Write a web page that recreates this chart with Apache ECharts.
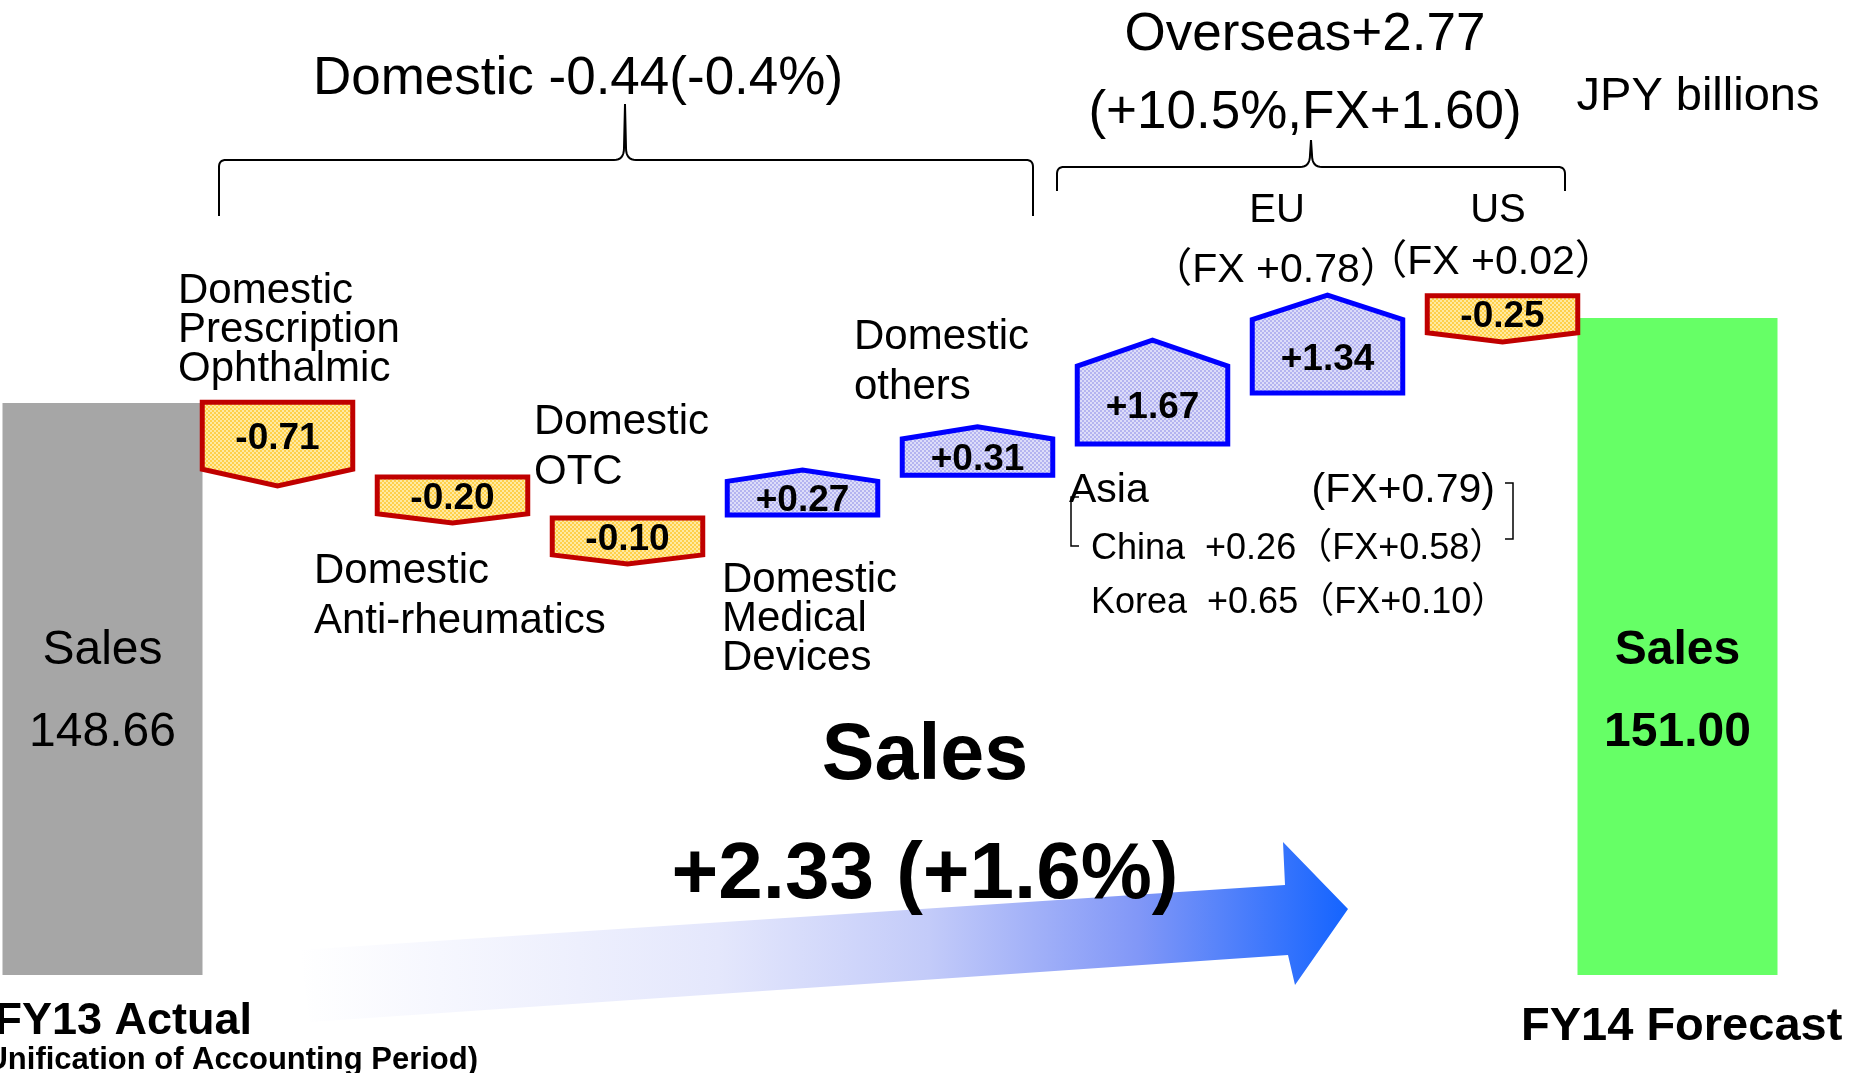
<!DOCTYPE html>
<html>
<head>
<meta charset="utf-8">
<title>Sales FY13 Actual to FY14 Forecast</title>
<script src="https://cdn.jsdelivr.net/npm/echarts@6/dist/echarts.min.js"></script>
<style>
  html, body { margin: 0; padding: 0; background: #fff; }
  #chart { width: 1849px; height: 1073px; }
</style>
</head>
<body>
<div id="chart"></div>
<script>
// JPY billions
const categories = ['FY13 Actual', 'Domestic Prescription Ophthalmic', 'Domestic Anti-rheumatics', 'Domestic OTC',
  'Domestic Medical Devices', 'Domestic others', 'Asia', 'EU', 'US', 'FY14 Forecast'];
const totalNames = ['FY13 Actual', 'FY14 Forecast'];
const totals = [148.66, 151.00];
const changes = [-0.71, -0.20, -0.10, 0.27, 0.31, 1.67, 1.34, -0.25];
// the slide does not draw the steps to scale: level where each box starts / ends
const stepFrom = [148.68, 146.62, 145.49, 145.57, 146.67, 147.53, 148.93, 151.61];
const stepTo = [146.37, 145.35, 144.22, 146.81, 148.00, 150.39, 151.63, 150.34];

const AXIS_MIN = 132.9;
const AXIS_MAX = 159.76;
const FONT = '"Liberation Sans", Arial, "Noto Sans CJK JP", sans-serif';

function makePattern(base, light) {
  const c = document.createElement('canvas');
  c.width = 4;
  c.height = 4;
  const g = c.getContext('2d');
  g.fillStyle = base;
  g.fillRect(0, 0, 4, 4);
  g.fillStyle = light;
  g.fillRect(0, 0, 2, 2);
  g.fillRect(2, 2, 2, 2);
  return { image: c, repeat: 'repeat' };
}
const yellowFill = makePattern('#FFD04A', '#FFEAA2');
const blueFill = makePattern('#B4B4F0', '#DDDDF9');

const renderTotal = (params, api) => {
  const i = api.value(0);
  const v = api.value(1);
  const base = api.coord([i, AXIS_MIN]);
  const top = api.coord([i, v]);
  const w = 200;
  const last = params.dataIndex === totals.length - 1;
  return {
    type: 'group',
    children: [
      {
        type: 'rect',
        shape: { x: base[0] - w / 2, y: top[1], width: w, height: base[1] - top[1] },
        style: { fill: last ? '#66FF66' : '#A6A6A6' }
      },
      {
        type: 'text',
        x: base[0],
        y: base[1] - 283,
        style: {
          text: 'Sales\n' + v.toFixed(2),
          font: (last ? 'bold ' : '') + '48px ' + FONT,
          lineHeight: 82,
          fill: '#000',
          align: 'center',
          verticalAlign: 'middle'
        }
      }
    ]
  };
};

const renderStep = (params, api) => {
  const i = api.value(0);
  const from = api.value(1);
  const to = api.value(2);
  const w = api.size([1, 0])[0] * 0.86;
  const pa = api.coord([i, from]);
  const pb = api.coord([i, to]);
  const xc = pa[0], xl = xc - w / 2, xr = xc + w / 2;
  const ya = pa[1], yb = pb[1];
  const down = to < from;
  let points, labelY;
  if (down) {
    const t = (yb - ya) * 0.2;
    points = [[xl, ya], [xr, ya], [xr, yb - t], [xc, yb], [xl, yb - t]];
    labelY = (ya + yb - t) / 2;
  } else {
    const t = (ya - yb) * 0.25;
    points = [[xl, ya], [xr, ya], [xr, yb + t], [xc, yb], [xl, yb + t]];
    labelY = (ya + yb + t) / 2;
  }
  const v = changes[params.dataIndex];
  return {
    type: 'group',
    children: [
      {
        type: 'polygon',
        shape: { points: points },
        style: {
          fill: down ? yellowFill : blueFill,
          stroke: down ? '#C00000' : '#0000FF',
          lineWidth: 5,
          lineJoin: 'miter'
        }
      },
      {
        type: 'text',
        x: xc,
        y: labelY + 3,
        style: {
          text: (v > 0 ? '+' : '') + v.toFixed(2),
          font: 'bold 37px ' + FONT,
          fill: '#000',
          align: 'center',
          verticalAlign: 'middle'
        }
      }
    ]
  };
};

// plain text on the slide
function txt(text, x, y, size, opts) {
  opts = opts || {};
  const style = {
    text: text,
    font: (opts.bold ? 'bold ' : '') + size + 'px ' + FONT,
    fill: '#000',
    align: opts.align || 'left',
    verticalAlign: opts.va || 'middle'
  };
  if (opts.lh) style.lineHeight = opts.lh;
  return { type: 'text', x: x, y: y + 3, z: 10, style: style };
}

// quadratic curve points from p0 to p2 with control p1
function quad(p0, p1, p2) {
  const pts = [];
  for (let k = 1; k <= 8; k++) {
    const t = k / 8, u = 1 - t;
    pts.push([u * u * p0[0] + 2 * u * t * p1[0] + t * t * p2[0], u * u * p0[1] + 2 * u * t * p1[1] + t * t * p2[1]]);
  }
  return pts;
}

function brace(x1, x2, xm, yLine, yEnd, yTip) {
  const r = 7;
  let pts = [[x1, yEnd], [x1, yLine + r]];
  pts = pts.concat(quad([x1, yLine + r], [x1, yLine], [x1 + r, yLine]));
  pts.push([xm - 11, yLine]);
  pts = pts.concat(quad([xm - 11, yLine], [xm - 1, yLine], [xm - 1, yLine - 12]));
  pts.push([xm, yTip], [xm + 1, yLine - 12]);
  pts = pts.concat(quad([xm + 1, yLine - 12], [xm + 1, yLine], [xm + 11, yLine]));
  pts.push([x2 - r, yLine]);
  pts = pts.concat(quad([x2 - r, yLine], [x2, yLine], [x2, yLine + r]));
  pts.push([x2, yEnd]);
  return { type: 'polyline', z: 5, shape: { points: pts }, style: { fill: null, stroke: '#000', lineWidth: 2 } };
}

function bracket(x, y1, y2, dir) {
  return {
    type: 'polyline', z: 5,
    shape: { points: [[x + dir * 8, y1], [x, y1], [x, y2], [x + dir * 8, y2]] },
    style: { stroke: '#000', lineWidth: 1.5, fill: null }
  };
}

const chart = echarts.init(document.getElementById('chart'));

chart.setOption({
  animation: false,
  backgroundColor: '#fff',
  grid: { left: 15, right: 84, top: 0, bottom: 98 },
  xAxis: { type: 'category', data: categories, show: false },
  yAxis: { type: 'value', min: AXIS_MIN, max: AXIS_MAX, show: false },
  series: [
    {
      name: 'Sales',
      type: 'custom',
      renderItem: renderTotal,
      data: totals.map((v, k) => [categories.indexOf(totalNames[k]), v])
    },
    {
      name: 'Change',
      type: 'custom',
      renderItem: renderStep,
      data: changes.map((c, k) => [k + 1, stepFrom[k], stepTo[k]])
    }
  ],
  graphic: {
    elements: [
      {
        type: 'polygon', z: 1,
        shape: { points: [[300, 950], [1285, 885], [1283, 842], [1348, 909], [1295, 985], [1288, 955], [310, 1022]] },
        style: {
          fill: {
            type: 'linear', x: 0, y: 0, x2: 1, y2: 0,
            colorStops: [
              { offset: 0, color: '#FFFFFF' },
              { offset: 0.4, color: '#E4E7FC' },
              { offset: 0.6, color: '#C3CBF9' },
              { offset: 0.8, color: '#8197F7' },
              { offset: 1, color: '#1464FF' }
            ]
          }
        }
      },
      brace(219, 1033, 625, 160, 216, 104),
      brace(1057, 1565, 1311, 167, 191, 140),
      txt('Domestic -0.44(-0.4%)', 578, 76, 53, { align: 'center' }),
      txt('Overseas+2.77', 1305, 32, 53, { align: 'center' }),
      txt('(+10.5%,FX+1.60)', 1305, 110, 53, { align: 'center' }),
      txt('JPY billions', 1698, 94, 47, { align: 'center' }),
      txt('Domestic\nPrescription\nOphthalmic', 178, 269, 42, { va: 'top', lh: 39 }),
      txt('Domestic\nAnti-rheumatics', 314, 543, 42, { va: 'top', lh: 50 }),
      txt('Domestic\nOTC', 534, 394, 42, { va: 'top', lh: 50 }),
      txt('Domestic\nMedical\nDevices', 722, 558, 42, { va: 'top', lh: 39 }),
      txt('Domestic\nothers', 854, 309, 42, { va: 'top', lh: 50 }),
      txt('EU', 1277, 208, 40, { align: 'center' }),
      txt('（FX +0.78）', 1276, 268, 41, { align: 'center' }),
      txt('US', 1498, 208, 40, { align: 'center' }),
      txt('（FX +0.02）', 1491, 260, 41, { align: 'center' }),
      txt('Asia', 1069, 488, 41),
      txt('(FX+0.79)', 1495, 488, 41, { align: 'right' }),
      txt('China  +0.26（FX+0.58）', 1091, 546, 36),
      txt('Korea  +0.65（FX+0.10）', 1091, 600, 36),
      bracket(1071, 497, 546, 1),
      bracket(1513, 483, 539, -1),
      txt('Sales', 925, 754, 79, { bold: true, align: 'center' }),
      txt('+2.33 (+1.6%)', 925, 873, 80, { bold: true, align: 'center' }),
      txt('FY13 Actual', 252, 1019, 45, { bold: true, align: 'right' }),
      txt('(Unification of Accounting Period)', 478, 1057, 31, { bold: true, align: 'right' }),
      txt('FY14 Forecast', 1521, 1024, 47, { bold: true })
    ]
  }
});
</script>
</body>
</html>
